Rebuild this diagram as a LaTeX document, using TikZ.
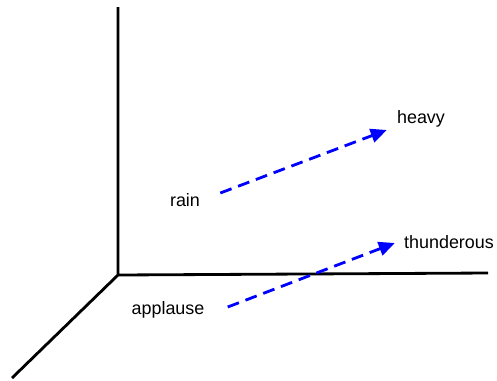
\documentclass[tikz,border=0pt]{standalone}
\usepackage{fontspec}
\setmainfont{Liberation Sans}
\usetikzlibrary{arrows.meta, calc}

\begin{document}
\begin{tikzpicture}[x=0.02cm, y=-0.02cm,
	word/.style={inner sep=0pt, font=\fontsize{10.2}{12}\selectfont},
	offsetarrow/.style={draw=blue, line width=1.6pt, dash pattern={on 0.24cm off 0.14cm}, -{Triangle[length=0.32cm, width=0.28cm]}}]
	\useasboundingbox (0,0) rectangle (497,380);
	% Axes:
	\coordinate (origin) at (118,275);
	\draw[line width=1.6pt] (118,7) -- (origin) -- (488,273);
	\draw[line width=1.6pt] (origin) -- (12,378);
	% Words:
	\node[word] (rain) at (185,200) {rain};
	\node[word] (heavy) at (421,119) {heavy};
	\node[word] (applause) at (168,310) {applause};
	\node[word] (thunderous) at (449,242) {thunderous};
	% Offsets:
	\draw[offsetarrow] ($(rain.east)+(20,-7)$) -- ($(heavy.west)+(-10,11)$);
	\draw[offsetarrow] ($(applause.east)+(23,-3)$) -- ($(thunderous.west)+(-9,1)$);
\end{tikzpicture}
\end{document}
